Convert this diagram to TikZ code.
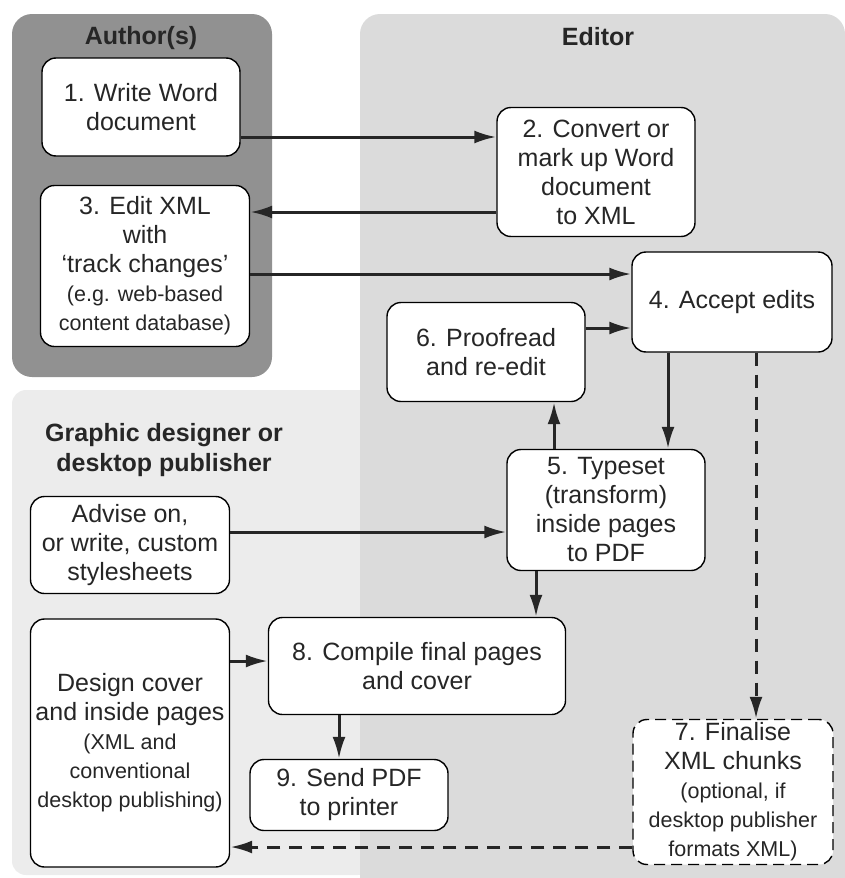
\documentclass[tikz,border=0pt]{standalone}
\usepackage{fontspec}
\setmainfont{Liberation Sans}
\usetikzlibrary{arrows.meta}
\newcommand{\notefont}{\fontsize{21.5}{25}\selectfont}
\definecolor{authorbg}{gray}{0.57}
\definecolor{editorbg}{gray}{0.86}
\definecolor{designbg}{gray}{0.925}
\tikzset{
  stepbox/.style={draw,line width=1.4pt,rounded corners=14pt,fill=white,align=center,
    inner sep=2pt,font=\fontsize{25}{29}\selectfont,text=black!85},
  head/.style={font=\fontsize{25}{30}\selectfont\bfseries,align=center,text=black!85},
  arr/.style={line width=3pt,draw=black!85,-{Latex[length=22pt,width=13pt]}},
  darr/.style={arr,dash pattern=on 13pt off 9pt}
}
\begin{document}
\begin{tikzpicture}[x=1pt,y=-1pt]
  \useasboundingbox (0,0) rectangle (845,878);
  % panels
  \begin{scope}
    \clip (0,0) rectangle (845,878);
    \fill[designbg,rounded corners=14pt] (12,390) rectangle (372,875);
    \fill[authorbg,rounded corners=20pt] (12,14) rectangle (272,377);
    \fill[editorbg,rounded corners=20pt] (360,14) rectangle (845,920);
  \end{scope}
  \node[head] (hauthor) at (141,38) {Author(s)};
  \node[head] (heditor) at (598,37) {Editor};
  \node[head] (hdesign) at (164,450) {Graphic designer or\\desktop publisher};

  % steps
  \node[stepbox,minimum width=198pt,minimum height=98pt] (n1) at (141,107) {1. Write Word\\document};
  \node[stepbox,minimum width=198pt,minimum height=129pt] (n2) at (596,172) {2. Convert or\\mark up Word\\document\\to XML};
  \node[stepbox,minimum width=209pt,minimum height=161pt] (n3) at (145,266)
    {3. Edit XML\\with\\‘track changes’\\{\notefont(e.g. web-based}\\{\notefont content database)}};
  \node[stepbox,minimum width=200pt,minimum height=100pt] (n4) at (732,302) {4. Accept edits};
  \node[stepbox,minimum width=198pt,minimum height=99pt] (n6) at (486,352) {6. Proofread\\and re-edit};
  \node[stepbox,minimum width=198pt,minimum height=121pt] (n5) at (606,510) {5. Typeset\\(transform)\\inside pages\\to PDF};
  \node[stepbox,minimum width=199pt,minimum height=97pt] (adv) at (130,545) {Advise on,\\or write, custom\\stylesheets};
  \node[stepbox,minimum width=199pt,minimum height=248pt] (des) at (130,743)
    {Design cover\\and inside pages\\{\notefont(XML and}\\{\notefont conventional}\\{\notefont desktop publishing)}};
  \node[stepbox,minimum width=297pt,minimum height=97pt] (n8) at (417,666) {8. Compile final pages\\and cover};
  \node[stepbox,minimum width=198pt,minimum height=71pt] (n9) at (349,795) {9. Send PDF\\to printer};
  \node[stepbox,dash pattern=on 11pt off 6pt,minimum width=200pt,minimum height=145pt] (n7) at (733,792)
    {7. Finalise\\XML chunks\\{\notefont(optional, if}\\{\notefont desktop publisher}\\{\notefont formats XML)}};

  % horizontal connectors
  \foreach \from/\to/\y in {n1/n2/137,n3/n4/274,n6/n4/328,adv/n5/532,des/n8/661}
    \draw[arr] (\from.east |- 0,\y) -- (\to.west |- 0,\y);
  \draw[arr] (n2.west |- 0,212) -- (n3.east |- 0,212);
  \draw[darr] (n7.west |- 0,847) -- (des.east |- 0,847);
  % vertical connectors
  \draw[arr] (668,0 |- n4.south) -- (668,0 |- n5.north);
  \draw[arr] (554,0 |- n5.north) -- (554,0 |- n6.south);
  \draw[arr] (536,0 |- n5.south) -- (536,0 |- n8.north);
  \draw[arr] (339,0 |- n8.south) -- (339,0 |- n9.north);
  \draw[darr] (756,0 |- n4.south) -- (756,0 |- n7.north);
\end{tikzpicture}
\end{document}
